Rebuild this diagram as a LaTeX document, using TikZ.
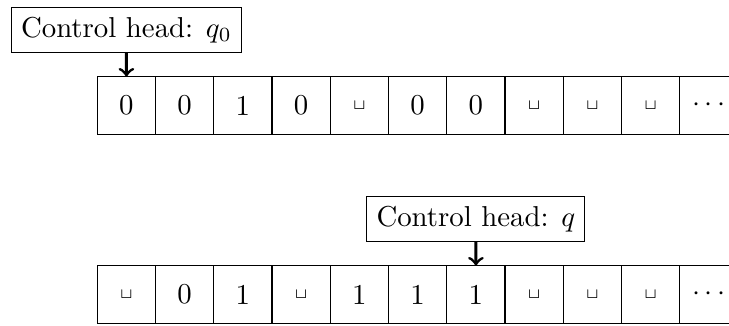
\documentclass[tikz,border=0pt]{standalone}
\newcommand\tapeblank{$\scriptscriptstyle\sqcup$}
\begin{document}
\begin{tikzpicture}[x=0.3472pt,y=-0.3472pt,
  cell/.style={minimum width=20.22pt, minimum height=20.1pt, inner sep=0pt, outer sep=0pt},
  tapeline/.style={line width=0.4pt},
  headlabel/.style={draw, line width=0.4pt, fill=white},
  headarrow/.style={line width=1pt, ->}]
\useasboundingbox (0,0) rectangle (729,325);
% first tape: cells, frame and separators
\foreach \s [count=\i] in {0,0,1,0,\tapeblank,0,0,\tapeblank,\tapeblank,\tapeblank,$\cdots$}
  \node[cell] (t\i) at ({97.3+58.25*(\i-0.5)},105.5) {\s};
\draw[tapeline] (t1.north west) rectangle (t11.south east);
\foreach \i in {1,...,10}
  \draw[tapeline] (t\i.north east) -- (t\i.south east);
% second tape
\foreach \s [count=\i] in {\tapeblank,0,1,\tapeblank,1,1,1,\tapeblank,\tapeblank,\tapeblank,$\cdots$}
  \node[cell] (b\i) at ({97.3+58.25*(\i-0.5)},294.5) {\s};
\draw[tapeline] (b1.north west) rectangle (b11.south east);
\foreach \i in {1,...,10}
  \draw[tapeline] (b\i.north east) -- (b\i.south east);
% head positions
\node[headlabel] (lt) at (126.4,30) {Control head: $q_0$};
\node[headlabel] (lb) at (475.9,218.8) {Control head: $q$};
\draw[headarrow] (lt.south) -- (t1.north);
\draw[headarrow] (lb.south) -- (b7.north);
\end{tikzpicture}
\end{document}
